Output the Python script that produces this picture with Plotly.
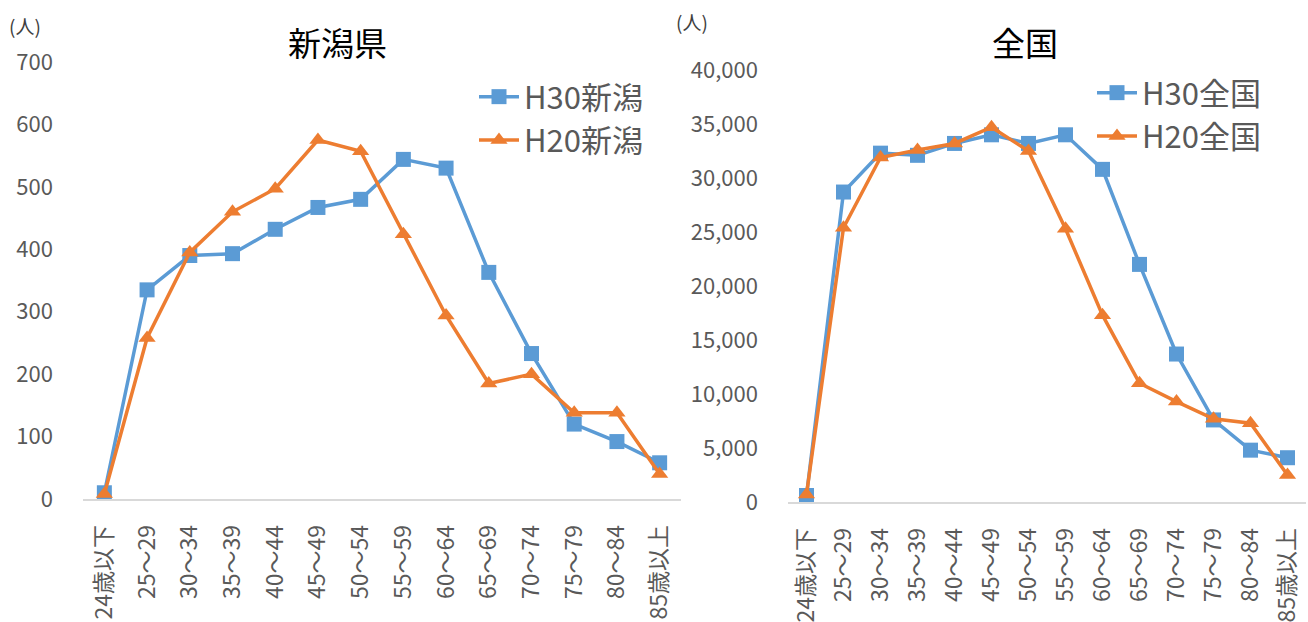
import plotly.graph_objects as go

categories = ["24歳以下", "25～29", "30～34", "35～39", "40～44", "45～49", "50～54",
              "55～59", "60～64", "65～69", "70～74", "75～79", "80～84", "85歳以上"]

niigata_h30 = [10, 335, 390, 393, 432, 467, 480, 544, 530, 363, 233, 120, 92, 58]
niigata_h20 = [8, 258, 395, 460, 497, 575, 557, 424, 294, 185, 200, 138, 138, 40]

zenkoku_h30 = [600, 28700, 32300, 32100, 33200, 34000, 33200, 34000, 30800, 22000, 13700, 7600, 4800, 4100]
zenkoku_h20 = [700, 25400, 31900, 32600, 33200, 34700, 32500, 25300, 17300, 11000, 9300, 7700, 7300, 2500]

left_ticks = [0, 100, 200, 300, 400, 500, 600, 700]
right_ticks = [0, 5000, 10000, 15000, 20000, 25000, 30000, 35000, 40000]

BLUE = "#5B9BD5"
ORANGE = "#ED7D31"
GRAY = "#595959"
NUMFONT = "Noto Sans CJK JP, Noto Sans, sans-serif"
CJK = "Noto Sans CJK JP, sans-serif"

fig = go.Figure()

def add_series(x, y, name, color, symbol, xa, ya, legend):
    fig.add_trace(go.Scatter(
        x=x, y=y, name=name, mode="lines+markers",
        line=dict(color=color, width=3.5),
        marker=dict(color=color, symbol=symbol, size=15),
        xaxis=xa, yaxis=ya, legend=legend, cliponaxis=False,
    ))

add_series(categories, niigata_h30, "H30新潟", BLUE, "square", "x", "y", "legend")
add_series(categories, niigata_h20, "H20新潟", ORANGE, "triangle-up", "x", "y", "legend")
add_series(categories, zenkoku_h30, "H30全国", BLUE, "square", "x2", "y2", "legend2")
add_series(categories, zenkoku_h20, "H20全国", ORANGE, "triangle-up", "x2", "y2", "legend2")

W, H = 1308, 622

def px(x):
    return x / W

def py(y):
    return 1 - y / H

xcommon = dict(
    type="category", showgrid=False, showline=True, linecolor="#D9D9D9", linewidth=1.5,
    ticks="", tickangle=-90, tickfont=dict(family=NUMFONT, size=23, color=GRAY),
    range=[-0.5, 13.5], fixedrange=True, ticklabelstandoff=15, automargin=False,
)
ycommon = dict(
    showgrid=False, showline=False, zeroline=False, ticks="", automargin=False,
    tickfont=dict(family=NUMFONT, size=22, color=GRAY), ticklabelstandoff=29,
)

fig.update_layout(
    width=W, height=H,
    margin=dict(l=0, r=0, t=0, b=0),
    paper_bgcolor="white", plot_bgcolor="white",
    xaxis=dict(domain=[px(83), px(681)], anchor="y", **xcommon),
    yaxis=dict(domain=[py(499), py(62)], anchor="x", range=[0, 700],
               tickvals=left_ticks, ticktext=[str(v) for v in left_ticks], **ycommon),
    xaxis2=dict(domain=[px(788), px(1306)], anchor="y2", **xcommon),
    yaxis2=dict(domain=[py(502), py(70)], anchor="x2", range=[0, 40000],
                tickvals=right_ticks, ticktext=[f"{v:,}" for v in right_ticks], **ycommon),
    legend=dict(x=px(474), y=py(70), xanchor="left", yanchor="top",
                font=dict(family=NUMFONT, size=31, color=GRAY),
                bgcolor="rgba(0,0,0,0)", itemwidth=40, tracegroupgap=0),
    legend2=dict(x=px(1092), y=py(66), xanchor="left", yanchor="top",
                 font=dict(family=NUMFONT, size=31, color=GRAY),
                 bgcolor="rgba(0,0,0,0)", itemwidth=40, tracegroupgap=0),
    showlegend=True,
    annotations=[
        dict(text="新潟県", x=px(337), y=py(42), xref="paper", yref="paper",
             xanchor="center", yanchor="middle",
             showarrow=False, font=dict(family=CJK, size=33, color="black")),
        dict(text="全国", x=px(1025), y=py(42), xref="paper", yref="paper",
             xanchor="center", yanchor="middle",
             showarrow=False, font=dict(family=CJK, size=33, color="black")),
        dict(text="(人)", x=px(25), y=py(25), xref="paper", yref="paper",
             xanchor="center", yanchor="middle",
             showarrow=False, font=dict(family=CJK, size=19, color="#404040")),
        dict(text="(人)", x=px(692), y=py(22), xref="paper", yref="paper",
             xanchor="center", yanchor="middle",
             showarrow=False, font=dict(family=CJK, size=19, color="#404040")),
    ],
)

fig.write_html("out.html", config={"displayModeBar": False},
               post_script="document.body.style.margin='0';")
